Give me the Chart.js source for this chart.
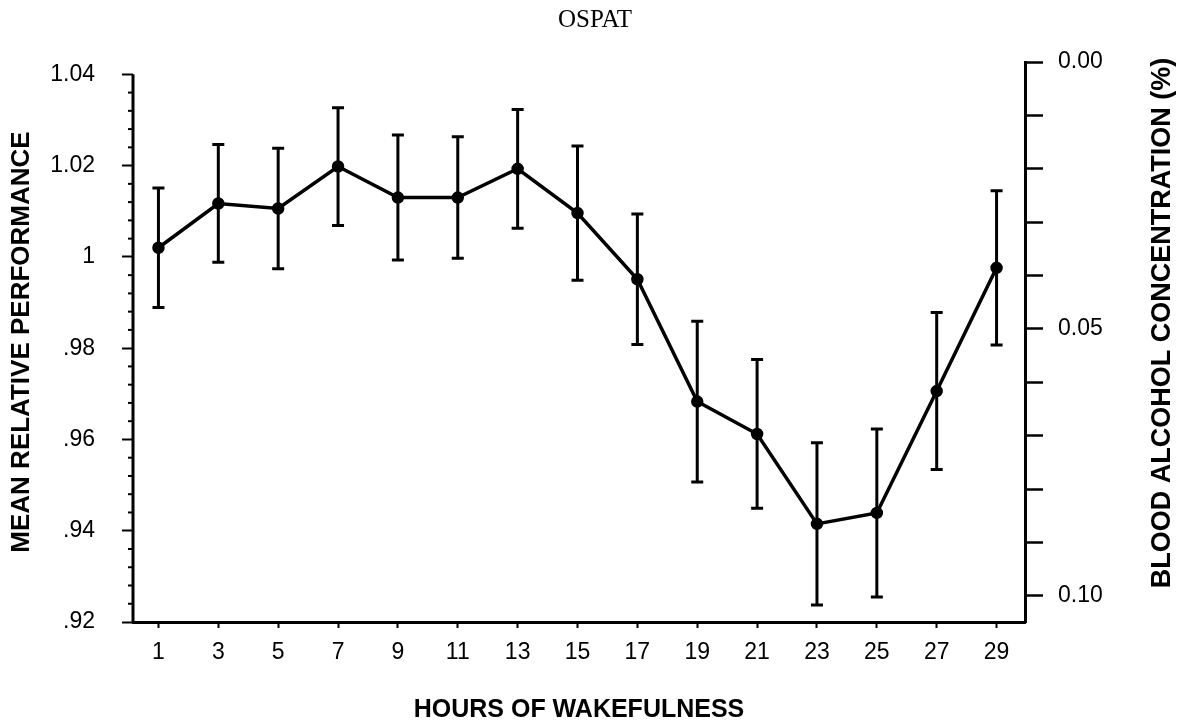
<!DOCTYPE html>
<html>
<head>
<meta charset="utf-8">
<script src="https://cdn.jsdelivr.net/npm/chart.js@4"></script>
<style>
  body { margin: 0; background: #fff; }
  #ospatChart { display: block; }
</style>
</head>
<body>
<canvas id="ospatChart" width="1190" height="727"></canvas>
<script>
// Hours of wakefulness and the mean relative performance
const hours = [1, 3, 5, 7, 9, 11, 13, 15, 17, 19, 21, 23, 25, 27, 29];
const meanPerformance = [1.002, 1.0117, 1.0106, 1.0198, 1.013, 1.013, 1.0193, 1.0096, 0.9951, 0.9683, 0.9612, 0.9415, 0.9439, 0.9706, 0.9976];
const errorSize = [0.0131, 0.0129, 0.0132, 0.0129, 0.0137, 0.0133, 0.013, 0.0147, 0.0143, 0.0176, 0.0163, 0.0178, 0.0184, 0.0172, 0.0169];

// Axis ticks
const leftTickValues = [0.92, 0.94, 0.96, 0.98, 1.0, 1.02, 1.04];
const leftTickLabels = ['.92', '.94', '.96', '.98', '1', '1.02', '1.04'];
const rightTickValues = [0, 0.01, 0.02, 0.03, 0.04, 0.05, 0.06, 0.07, 0.08, 0.09, 0.10];
const rightTickLabels = ['0.00', '', '', '', '', '0.05', '', '', '', '', '0.10'];

const rightTitle = 'BLOOD ALCOHOL CONCENTRATION (%)';
const sansFont = "'Liberation Sans', Arial, sans-serif";

// Error bars drawn with the chart's own scales
const errorBars = {
    id: 'errorBars',
    afterDatasetsDraw(chart) {
        const ctx = chart.ctx;
        const xs = chart.scales.x;
        const ys = chart.scales.y;
        ctx.save();
        ctx.strokeStyle = '#000';
        ctx.lineWidth = 3;
        hours.forEach((h, i) => {
            const x = xs.getPixelForValue(h);
            const top = ys.getPixelForValue(meanPerformance[i] + errorSize[i]);
            const bottom = ys.getPixelForValue(meanPerformance[i] - errorSize[i]);
            ctx.beginPath();
            ctx.moveTo(x, top);
            ctx.lineTo(x, bottom);
            ctx.moveTo(x - 6, top);
            ctx.lineTo(x + 6, top);
            ctx.moveTo(x - 6, bottom);
            ctx.lineTo(x + 6, bottom);
            ctx.stroke();
        });
        ctx.restore();
    }
};

// Left axis line (stops at 1.04), short minor ticks, and the right axis title (reads bottom to top)
const extras = {
    id: 'extras',
    afterDraw(chart) {
        const ctx = chart.ctx;
        const ys = chart.scales.y;
        const area = chart.chartArea;
        ctx.save();
        ctx.strokeStyle = '#000';
        ctx.lineWidth = 3;
        ctx.beginPath();
        ctx.moveTo(area.left, ys.getPixelForValue(1.04));
        ctx.lineTo(area.left, area.bottom);
        ctx.stroke();
        ctx.lineWidth = 2;
        for (let k = 1; k < 30; k++) {
            if (k % 5 === 0) continue;
            const y = ys.getPixelForValue(0.92 + k * 0.004);
            ctx.beginPath();
            ctx.moveTo(area.left - 5, y);
            ctx.lineTo(area.left, y);
            ctx.stroke();
        }
        const r = chart.scales.y2;
        ctx.translate(r.right - 27, (area.top + area.bottom) / 2 - 19);
        ctx.rotate(-Math.PI / 2);
        ctx.fillStyle = '#000';
        ctx.font = "bold 27px " + sansFont;
        ctx.textAlign = 'center';
        ctx.textBaseline = 'middle';
        ctx.fillText(rightTitle, 0, 0);
        ctx.restore();
    }
};

const ctx = document.getElementById('ospatChart').getContext('2d');
new Chart(ctx, {
    type: 'line',
    data: {
        datasets: [{
            label: 'OSPAT',
            data: hours.map((h, i) => ({ x: h, y: meanPerformance[i] })),
            borderColor: '#000',
            backgroundColor: '#000',
            borderWidth: 3.5,
            pointRadius: 4.5,
            pointBackgroundColor: '#000',
            pointBorderColor: '#000',
            tension: 0,
            clip: false
        }]
    },
    options: {
        responsive: false,
        animation: false,
        devicePixelRatio: 1,
        layout: { padding: 0 },
        plugins: {
            legend: { display: false },
            tooltip: { enabled: false },
            title: {
                display: true,
                text: 'OSPAT',
                color: '#000',
                font: { family: "'Liberation Serif', 'Times New Roman', serif", size: 25, weight: 'normal' },
                padding: { top: 5, bottom: 27 }
            }
        },
        scales: {
            x: {
                type: 'linear',
                min: 0.15,
                max: 29.95,
                afterBuildTicks: scale => { scale.ticks = hours.map(h => ({ value: h })); },
                afterFit: scale => { scale.height = 105; },
                grid: { drawOnChartArea: false, tickLength: 6, tickWidth: 2, tickColor: '#000' },
                border: { display: true, color: '#000', width: 3 },
                ticks: {
                    autoSkip: false,
                    maxRotation: 0,
                    color: '#000',
                    padding: 11,
                    font: { family: sansFont, size: 23 },
                    callback: value => String(value)
                },
                title: {
                    display: true,
                    text: 'HOURS OF WAKEFULNESS',
                    color: '#000',
                    font: { family: sansFont, size: 25, weight: 'bold' },
                    padding: { top: 0, bottom: 2 }
                }
            },
            y: {
                type: 'linear',
                position: 'left',
                min: 0.92,
                max: 1.0427,
                afterBuildTicks: scale => { scale.ticks = leftTickValues.map(v => ({ value: v })); },
                afterFit: scale => { scale.width = 133; },
                grid: { drawOnChartArea: false, tickLength: 11, tickWidth: 2, tickColor: '#000' },
                border: { display: false },
                ticks: {
                    autoSkip: false,
                    color: '#000',
                    padding: 27,
                    font: { family: sansFont, size: 23 },
                    callback: (value, index) => leftTickLabels[index]
                },
                title: {
                    display: true,
                    text: 'MEAN RELATIVE PERFORMANCE',
                    color: '#000',
                    font: { family: sansFont, size: 26, weight: 'bold' },
                    padding: { top: 6, bottom: 0 }
                }
            },
            y2: {
                type: 'linear',
                position: 'right',
                reverse: true,
                min: 0,
                max: 0.1049,
                afterBuildTicks: scale => { scale.ticks = rightTickValues.map(v => ({ value: v })); },
                afterFit: scale => { scale.width = 165; },
                grid: { drawOnChartArea: false, tickLength: 18, tickWidth: 2.5, tickColor: '#000' },
                border: { display: true, color: '#000', width: 3 },
                ticks: {
                    autoSkip: false,
                    color: '#000',
                    padding: 15,
                    font: { family: sansFont, size: 23 },
                    callback: (value, index) => rightTickLabels[index]
                }
            }
        }
    },
    plugins: [errorBars, extras]
});
</script>
</body>
</html>
